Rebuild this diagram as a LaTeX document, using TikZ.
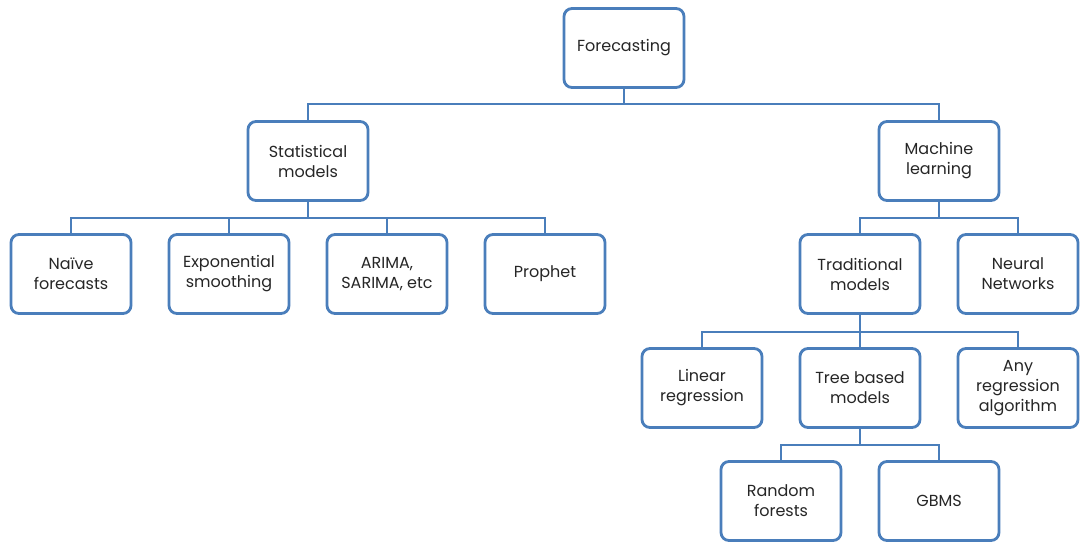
\documentclass[tikz,border=0pt]{standalone}
\usepackage{fontspec}
\setmainfont{Poppins}
\usetikzlibrary{positioning,calc}
\definecolor{boxline}{RGB}{74,126,187}
\definecolor{boxtext}{RGB}{38,38,38}

\begin{document}
\begin{tikzpicture}[x=1pt, y=-1pt]
	\useasboundingbox (0,0) rectangle (1086,550);
	\tikzset{
		box/.style={draw=boxline, line width=2.8pt, rounded corners=8pt, fill=white,
			minimum width=120pt, minimum height=79pt, align=center, inner sep=2pt,
			text=boxtext, font=\fontsize{16}{20}\selectfont},
		link/.style={draw=boxline, line width=2.8pt}
	}

	% level 0 and 1
	\node[box] (fc)   at (624, 48)  {Forecasting};
	\node[box] (stat) at (308, 161) {Statistical\\models};
	\node[box] (ml)   at (939, 161) {Machine\\learning};

	% statistical models
	\node[box] (naive) at (71, 274)  {Na\"ive\\forecasts};
	\node[box] (exps)  at (229, 274) {Exponential\\smoothing};
	\node[box] (arima) at (387, 274) {ARIMA,\\SARIMA, etc};
	\node[box] (prop)  at (545, 274) {Prophet};

	% machine learning
	\node[box] (trad) at (860, 274)  {Traditional\\models};
	\node[box] (nn)   at (1018, 274) {Neural\\Networks};

	\node[box] (lin)  at (702, 388)  {Linear\\regression};
	\node[box] (tree) at (860, 388)  {Tree based\\models};
	\node[box] (any)  at (1018, 388) {Any\\regression\\algorithm};

	\node[box] (rf)   at (781, 501) {Random\\forests};
	\node[box] (gbms) at (939, 501) {GBMS};

	% connectors
	\draw[link] (fc.south) -- ++(0,15) coordinate (fcb);
	\draw[link] (fcb) -| (stat.north);
	\draw[link] (fcb) -| (ml.north);

	\draw[link] (stat.south) -- ++(0,16) coordinate (stb);
	\foreach \c in {naive, exps, arima, prop}
		\draw[link] (stb) -| (\c.north);

	\draw[link] (ml.south) -- ++(0,16) coordinate (mlb);
	\foreach \c in {trad, nn}
		\draw[link] (mlb) -| (\c.north);

	\draw[link] (trad.south) -- ++(0,17) coordinate (trb);
	\foreach \c in {lin, tree, any}
		\draw[link] (trb) -| (\c.north);

	\draw[link] (tree.south) -- ++(0,16) coordinate (teb);
	\foreach \c in {rf, gbms}
		\draw[link] (teb) -| (\c.north);
\end{tikzpicture}
\end{document}
